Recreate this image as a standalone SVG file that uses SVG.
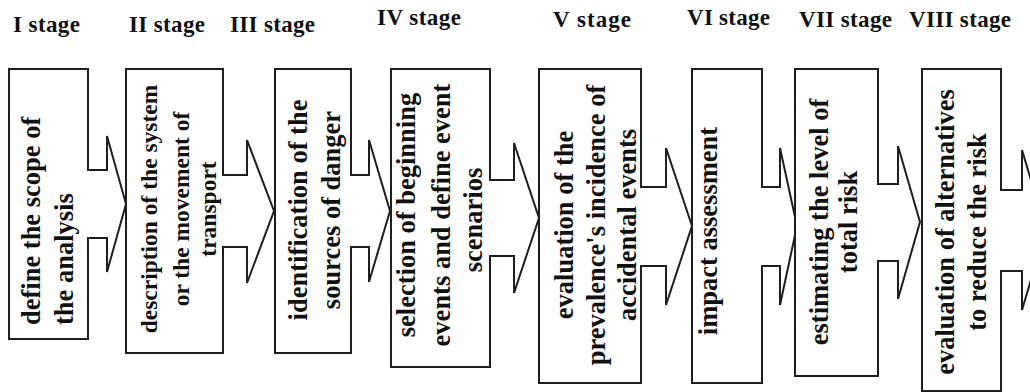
<svg xmlns="http://www.w3.org/2000/svg" width="1030" height="392" viewBox="0 0 1030 392">
<style>
.shape{fill:#fff;stroke:#1e1e1e;stroke-width:2;stroke-linejoin:miter}
.stage{font-family:"Liberation Serif","Times New Roman",serif;font-weight:bold;font-size:23px;fill:#111}
.t{font-family:"Liberation Serif","Times New Roman",serif;font-weight:bold;font-size:26.5px;fill:#111;text-anchor:middle}
.ts{font-family:"Liberation Serif","Times New Roman",serif;font-weight:bold;font-size:26.5px;fill:#111;text-anchor:start}
.sm{font-size:23.5px}
</style>
<rect width="1030" height="392" fill="#fff"/>
<g id="stages">
<text class="stage" x="13" y="32" textLength="67">I stage</text>
<text class="stage" x="129" y="32" textLength="76">II stage</text>
<text class="stage" x="230" y="32" textLength="85">III stage</text>
<text class="stage" x="377" y="25" textLength="84">IV stage</text>
<text class="stage" x="553" y="27" textLength="78">V stage</text>
<text class="stage" x="687" y="25" textLength="83">VI stage</text>
<text class="stage" x="799" y="27" textLength="93">VII stage</text>
<text class="stage" x="909" y="27" textLength="102">VIII stage</text>
</g>
<g id="connectors"></g>
<g id="node1">
<polygon class="shape" points="9,69 88,69 88,170 107,170 107,136 126,204 107,272 107,238 88,238 88,339 9,339"/>
<text class="ts" transform="translate(40,325) rotate(-90)">define the scope of</text>
<text class="ts" transform="translate(73,325) rotate(-90)">the analysis</text>
</g>
<g id="node2">
<polygon class="shape" points="126,69 223,69 223,175 247,175 247,140 274,211 247,283 247,247 223,247 223,353 126,353"/>
<text class="t sm" transform="translate(157,209) rotate(-90)">description of the system</text>
<text class="t sm" transform="translate(189,209) rotate(-90)">or the movement of</text>
<text class="t sm" transform="translate(216,209) rotate(-90)">transport</text>
</g>
<g id="node3">
<polygon class="shape" points="275,69 351,69 351,175 369,175 369,140 390,211 369,282 369,247 351,247 351,353 275,353"/>
<text class="t" transform="translate(307,210) rotate(-90)">identification of the</text>
<text class="t" transform="translate(340,210) rotate(-90)">sources of danger</text>
</g>
<g id="node4">
<polygon class="shape" points="391,69 490,69 490,180 514,180 514,143 539,218 514,293 514,256 490,256 490,367 391,367"/>
<text class="t" transform="translate(415,215) rotate(-90)">selection of beginning</text>
<text class="t" transform="translate(450,215) rotate(-90)">events and define event</text>
<text class="t" transform="translate(482,220) rotate(-90)">scenarios</text>
</g>
<g id="node5">
<polygon class="shape" points="539,69 641,69 641,187 666,187 666,148 692,226 666,305 666,266 641,266 641,383 539,383"/>
<text class="t" transform="translate(573,225) rotate(-90)">evaluation of the</text>
<text class="t" transform="translate(605,225) rotate(-90)">prevalence's incidence of</text>
<text class="t" transform="translate(636,225) rotate(-90)">accidental events</text>
</g>
<g id="node6">
<polygon class="shape" points="692,69 762,69 762,187 780,187 780,148 797,226 780,305 780,266 762,266 762,383 692,383"/>
<text class="t" transform="translate(717,231) rotate(-90)">impact assessment</text>
</g>
<g id="node7">
<polygon class="shape" points="795,69 878,69 878,184 898,184 898,146 920,222 898,299 898,261 878,261 878,376 795,376"/>
<text class="t" transform="translate(828,222) rotate(-90)">estimating the level of</text>
<text class="t" transform="translate(857,222) rotate(-90)">total risk</text>
</g>
<g id="node8">
<polygon class="shape" points="922,69 1001,69 1001,190 1022,190 1022,150 1046,230 1022,310 1022,271 1001,271 1001,391 922,391"/>
<text class="t" transform="translate(954,232) rotate(-90)">evaluation of alternatives</text>
<text class="t" transform="translate(986,232) rotate(-90)">to reduce the risk</text>
</g>
</svg>
